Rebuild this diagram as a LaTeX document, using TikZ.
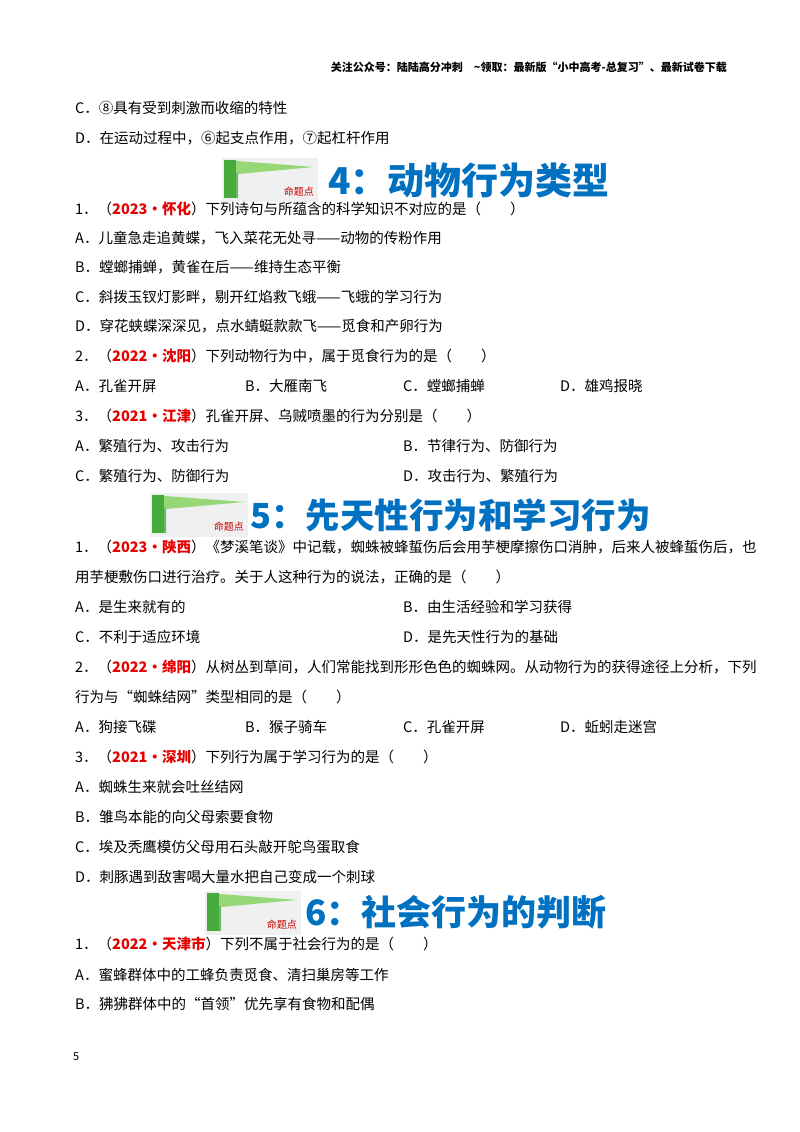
\documentclass[tikz,border=0pt]{standalone}
\usepackage{fontspec}
\setmainfont{Noto Sans CJK SC}
\definecolor{ttl}{RGB}{0,112,192}
\definecolor{yr}{RGB}{230,0,0}
\definecolor{gA}{RGB}{70,170,60}
\definecolor{gB}{RGB}{150,215,120}
\begin{document}
\begin{tikzpicture}[x=1pt,y=-1pt,
  tx/.style={anchor=west,inner sep=0pt,font=\fontsize{14.5}{16}\selectfont},
  ttlt/.style={anchor=west,inner sep=0pt,text=ttl,font=\fontsize{#1}{40}\selectfont\bfseries}]
\useasboundingbox[fill=white] (0,0) rectangle (800,1132);
\newcommand\yrs[1]{（\textcolor{yr}{\textbf{#1}}）}
\newcommand\banner[3]{% x, y(top), width
  \fill[black!6] (#1,#2) rectangle ++(#3,44);
  \fill[gB] (#1+2,#2+2) -- (#1+#3-4,#2+9) -- (#1+16,#2+16) -- cycle;
  \fill[gA] (#1+2,#2+2) rectangle (#1+14,#2+40);
  \fill[gA!80] (#1+14,#2+14) -- (#1+16,#2+16) -- (#1+16,#2+40) -- (#1+14,#2+40) -- cycle;
  \node[anchor=east,inner sep=0pt,text=yr!85!black,font=\fontsize{10}{11}\selectfont] at (#1+#3-4,#2+34) {命题点};}
\node[anchor=east,inner sep=0pt,font=\fontsize{11}{12}\selectfont\bfseries] (hdr) at (727,67) {关注公众号：陆陆高分冲刺\quad\textasciitilde 领取：最新版“小中高考-总复习”、最新试卷下载};
\node[tx] (l1) at (75,108) {C．⑧具有受到刺激而收缩的特性};
\node[tx] (l2) at (75,138) {D．在运动过程中，⑥起支点作用，⑦起杠杆作用};
\banner{222}{158}{96}
\node[ttlt=37] (t4) at (328,180) {4：动物行为类型};
\node[tx] (a1) at (75,209) {1．\yrs{2023·怀化}下列诗句与所蕴含的科学知识不对应的是（\quad\quad ）};
\node[tx] (a2) at (75,238) {A．儿童急走追黄蝶，飞入菜花无处寻——动物的传粉作用};
\node[tx] (a3) at (75,267) {B．螳螂捕蝉，黄雀在后——维持生态平衡};
\node[tx] (a4) at (75,297) {C．斜拨玉钗灯影畔，剔开红焰救飞蛾——飞蛾的学习行为};
\node[tx] (a5) at (75,326) {D．穿花蛱蝶深深见，点水蜻蜓款款飞——觅食和产卵行为};
\node[tx] (a6) at (75,356) {2．\yrs{2022·沈阳}下列动物行为中，属于觅食行为的是（\quad\quad ）};
\node[tx] (a7) at (75,386) {A．孔雀开屏};
\node[tx] (a8) at (245,386) {B．大雁南飞};
\node[tx] (a9) at (403,386) {C．螳螂捕蝉};
\node[tx] (a10) at (560,386) {D．雄鸡报晓};
\node[tx] (a11) at (75,416) {3．\yrs{2021·江津}孔雀开屏、乌贼喷墨的行为分别是（\quad\quad ）};
\node[tx] (a12) at (75,446) {A．繁殖行为、攻击行为};
\node[tx] (a13) at (403,446) {B．节律行为、防御行为};
\node[tx] (a14) at (75,476) {C．繁殖行为、防御行为};
\node[tx] (a15) at (403,476) {D．攻击行为、繁殖行为};
\banner{150}{493}{98}
\node[ttlt=34.5] (t5) at (250,515) {5：先天性行为和学习行为};
\node[tx] (b1) at (75,547) {1．\yrs{2023·陕西}《梦溪笔谈》中记载，蜘蛛被蜂蜇伤后会用芋梗摩擦伤口消肿，后来人被蜂蜇伤后，也};
\node[tx] (b2) at (75,577) {用芋梗敷伤口进行治疗。关于人这种行为的说法，正确的是（\quad\quad ）};
\node[tx] (b3) at (75,607) {A．是生来就有的};
\node[tx] (b4) at (403,607) {B．由生活经验和学习获得};
\node[tx] (b5) at (75,637) {C．不利于适应环境};
\node[tx] (b6) at (403,637) {D．是先天性行为的基础};
\node[tx] (b7) at (75,667) {2．\yrs{2022·绵阳}从树丛到草间，人们常能找到形形色色的蜘蛛网。从动物行为的获得途径上分析，下列};
\node[tx] (b8) at (75,697) {行为与“蜘蛛结网”类型相同的是（\quad\quad ）};
\node[tx] (b9) at (75,727) {A．狗接飞碟};
\node[tx] (b10) at (245,727) {B．猴子骑车};
\node[tx] (b11) at (403,727) {C．孔雀开屏};
\node[tx] (b12) at (560,727) {D．蚯蚓走迷宫};
\node[tx] (b13) at (75,757) {3．\yrs{2021·深圳}下列行为属于学习行为的是（\quad\quad ）};
\node[tx] (b14) at (75,787) {A．蜘蛛生来就会吐丝结网};
\node[tx] (b15) at (75,817) {B．雏鸟本能的向父母索要食物};
\node[tx] (b16) at (75,847) {C．埃及秃鹰模仿父母用石头敲开鸵鸟蛋取食};
\node[tx] (b17) at (75,877) {D．刺豚遇到敌害喝大量水把自己变成一个刺球};
\banner{205}{891}{96}
\node[ttlt=35] (t6) at (305,912) {6：社会行为的判断};
\node[tx] (c1) at (75,944) {1．\yrs{2022·天津市}下列不属于社会行为的是（\quad\quad ）};
\node[tx] (c2) at (75,975) {A．蜜蜂群体中的工蜂负责觅食、清扫巢房等工作};
\node[tx] (c3) at (75,1004) {B．狒狒群体中的“首领”优先享有食物和配偶};
\node[anchor=west,inner sep=0pt,font=\fontsize{11}{12}\selectfont] (pg) at (73,1057) {5};
\end{tikzpicture}
\end{document}
